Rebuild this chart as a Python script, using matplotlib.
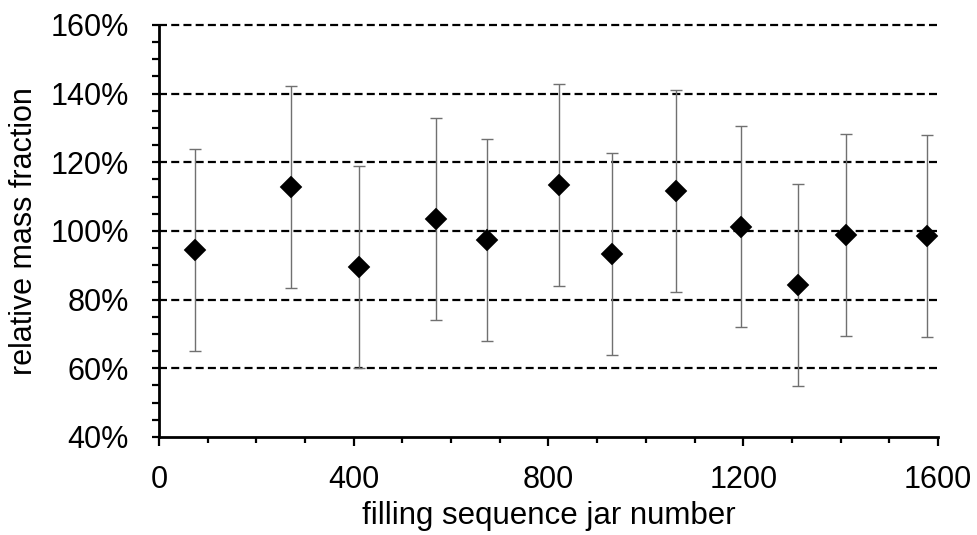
import matplotlib
matplotlib.use("Agg")
import matplotlib.pyplot as plt
from matplotlib.ticker import MultipleLocator, FuncFormatter

plt.rcParams['font.family'] = ['Liberation Sans', 'DejaVu Sans']

# jar position in the filling sequence and measured mass fraction (% of nominal)
jar_number = [75, 271, 411, 568, 674, 821, 930, 1062, 1195, 1313, 1412, 1578]
mass_frac = [94.5, 112.8, 89.6, 103.5, 97.4, 113.5, 93.4, 111.7, 101.3, 84.2, 98.9, 98.5]
uncert = [29.4, 29.3, 29.4, 29.3, 29.4, 29.4, 29.4, 29.4, 29.4, 29.4, 29.4, 29.4]

fig = plt.figure(figsize=(9.77, 5.35), dpi=100)
ax = fig.add_axes([0.1627, 0.1832, 0.7974, 0.7701])

# dashed reference lines every 20 %
for yv in range(60, 161, 20):
    ax.axhline(yv, color='black', lw=1.6, ls=(0, (3.6, 1.9)), zorder=1, clip_on=False)

ax.errorbar(jar_number, mass_frac, yerr=uncert, fmt='none', ecolor='#707070',
            elinewidth=1.0, capsize=4.3, capthick=1.0, zorder=2)
ax.plot(jar_number, mass_frac, 'D', color='black', markersize=11, mew=0.3, zorder=3)

ax.set_xlim(0, 1600)
ax.set_ylim(40, 160)
ax.xaxis.set_major_locator(MultipleLocator(400))
ax.xaxis.set_minor_locator(MultipleLocator(100))
ax.yaxis.set_major_locator(MultipleLocator(20))
ax.yaxis.set_minor_locator(MultipleLocator(5))
ax.yaxis.set_major_formatter(FuncFormatter(lambda v, p: '%d%%' % v))

for s in ['top', 'right']:
    ax.spines[s].set_visible(False)
for s in ['left', 'bottom']:
    ax.spines[s].set_linewidth(2.0)

ax.tick_params(axis='x', which='major', direction='out', length=6.5, width=1.6,
               labelsize=22, pad=14)
ax.tick_params(axis='x', which='minor', direction='out', length=4.5, width=1.6)
ax.tick_params(axis='y', which='both', direction='out', length=5, width=1.6,
               labelsize=22, pad=16.5)

ax.set_xlabel('filling sequence jar number', fontsize=22.5, labelpad=4)
ax.set_ylabel('relative mass fraction', fontsize=22)
ax.yaxis.set_label_coords(-0.154, 0.5)

fig.savefig('out.png', dpi=100)
